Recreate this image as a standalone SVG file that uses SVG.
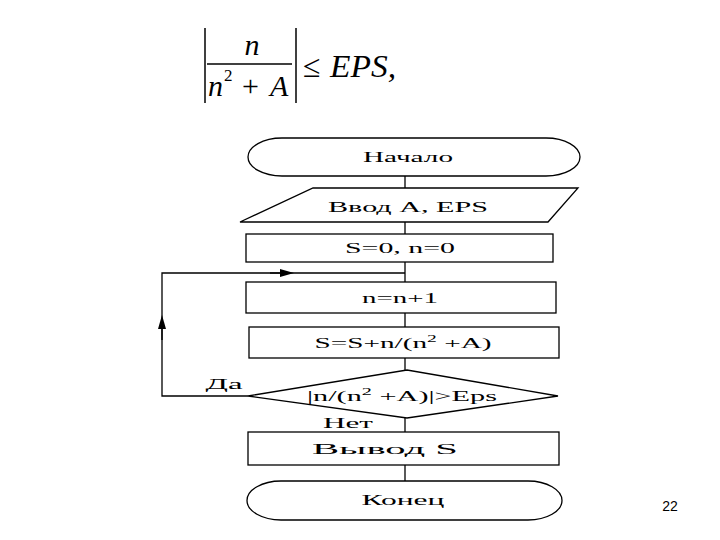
<svg xmlns="http://www.w3.org/2000/svg" width="720" height="540" viewBox="0 0 720 540">
<style>
.s{fill:#fff;stroke:#000;stroke-width:1.3}
.l{fill:none;stroke:#000;stroke-width:1.3}
.t{font-family:"Liberation Serif","Times New Roman",serif;font-size:15px;fill:#000;text-anchor:middle}
.m{font-family:"Liberation Serif","Times New Roman",serif;font-style:italic;fill:#000}
.r{font-family:"Liberation Serif","Times New Roman",serif;fill:#000}
</style>
<defs>
<marker id="ar" markerWidth="14" markerHeight="8" refX="7" refY="4" orient="auto" markerUnits="userSpaceOnUse">
<path d="M0,0 L14,4 L0,8 Z" fill="#000"/>
</marker>
</defs>
<rect width="720" height="540" fill="#fff"/>
<g id="formula">
<line x1="205" y1="28" x2="205" y2="103" stroke="#000" stroke-width="1.5"/>
<line x1="296" y1="28" x2="296" y2="103" stroke="#000" stroke-width="1.5"/>
<line x1="207" y1="64" x2="292" y2="64" stroke="#000" stroke-width="1.3"/>
<text class="m" x="252" y="55" font-size="30" text-anchor="middle">n</text>
<text class="m" x="208" y="96" font-size="30">n</text>
<text class="r" x="224" y="81" font-size="17">2</text>
<text class="r" x="242" y="96" font-size="30">+</text>
<text class="m" x="270" y="96" font-size="30">A</text>
<text class="r" x="303" y="77" font-size="32">≤</text>
<text class="m" x="330" y="77" font-size="32" textLength="66" lengthAdjust="spacingAndGlyphs">EPS,</text>
</g>
<g id="connectors">
<line class="l" x1="405" y1="176" x2="405" y2="188"/>
<line class="l" x1="405" y1="222" x2="405" y2="234"/>
<line class="l" x1="405" y1="262" x2="405" y2="282"/>
<line class="l" x1="405" y1="313" x2="405" y2="327"/>
<line class="l" x1="405" y1="358" x2="405" y2="370"/>
<line class="l" x1="405" y1="418" x2="405" y2="432"/>
<line class="l" x1="405" y1="465" x2="405" y2="481"/>
<polyline class="l" points="248,396 162,396 162,273 405,273"/>
<line class="l" x1="162" y1="340" x2="162" y2="322" marker-end="url(#ar)"/>
<line class="l" x1="270" y1="273" x2="287" y2="273" marker-end="url(#ar)"/>
<text class="t" x="224" y="389" textLength="37" lengthAdjust="spacingAndGlyphs">Да</text>
<text class="t" x="348" y="428" textLength="50" lengthAdjust="spacingAndGlyphs">Нет</text>
</g>
<g id="start">
<rect class="s" x="248" y="138" width="332" height="38" rx="34" ry="19"/>
<text class="t" x="408" y="162" textLength="90" lengthAdjust="spacingAndGlyphs">Начало</text>
</g>
<g id="input">
<polygon class="s" points="313,188 578,188 548,222 240,222"/>
<text class="t" x="408" y="212" textLength="160" lengthAdjust="spacingAndGlyphs">Ввод А, EPS</text>
</g>
<g id="init">
<rect class="s" x="246" y="234" width="307" height="28"/>
<text class="t" x="400" y="253" textLength="110" lengthAdjust="spacingAndGlyphs">S=0, n=0</text>
</g>
<g id="inc">
<rect class="s" x="246" y="282" width="310" height="31"/>
<text class="t" x="400" y="303" textLength="76" lengthAdjust="spacingAndGlyphs">n=n+1</text>
</g>
<g id="sum">
<rect class="s" x="249" y="327" width="310" height="31"/>
<text class="t" x="403" y="348" textLength="177" lengthAdjust="spacingAndGlyphs">S=S+n/(n<tspan font-size="10" dy="-6">2</tspan><tspan dy="6"> +A)</tspan></text>
</g>
<g id="cond">
<polygon class="s" points="248,396 407,370 558,396 407,418"/>
<text class="t" x="402" y="401" textLength="190" lengthAdjust="spacingAndGlyphs">|n/(n<tspan font-size="10" dy="-6">2</tspan><tspan dy="6"> +A)|&gt;Eps</tspan></text>
</g>
<g id="output">
<rect class="s" x="248" y="432" width="311" height="33"/>
<text class="t" x="385" y="454" textLength="146" lengthAdjust="spacingAndGlyphs">Вывод S</text>
</g>
<g id="end">
<rect class="s" x="247" y="481" width="315" height="39" rx="34" ry="19.5"/>
<text class="t" x="403" y="505" textLength="83" lengthAdjust="spacingAndGlyphs">Конец</text>
</g>
<text x="670" y="511" font-family="Liberation Sans,Arial,sans-serif" font-size="14" text-anchor="middle" fill="#000">22</text>
</svg>
